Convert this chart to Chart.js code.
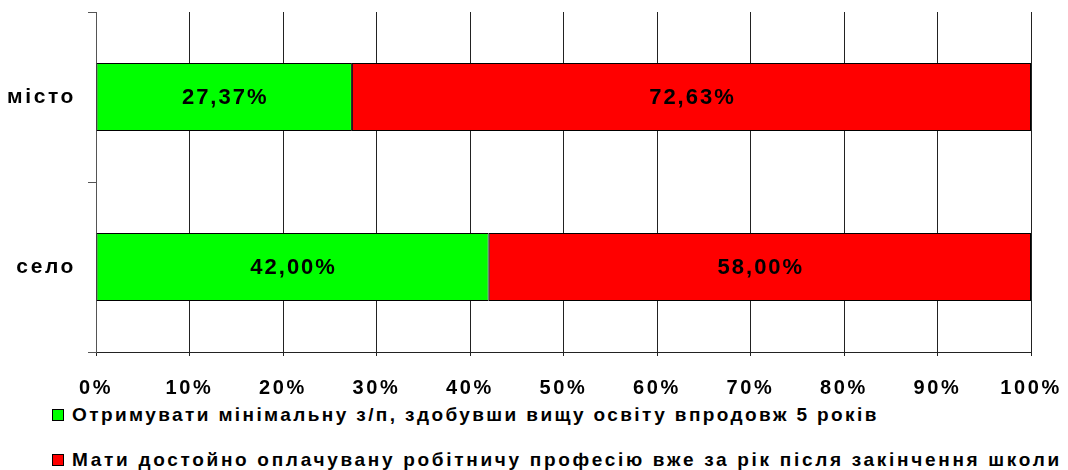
<!DOCTYPE html>
<html>
<head>
<meta charset="utf-8">
<script src="https://cdn.jsdelivr.net/npm/chart.js@4"></script>
<style>
  html, body { margin: 0; padding: 0; background: #fff; }
  #wrap { position: relative; width: 1068px; height: 470px; }
  #chart-box { position: absolute; left: 0; top: 0; width: 1068px; height: 400px; }
  #legend { position: absolute; left: 52px; top: 403px; font: bold 19px Arial, "Liberation Sans", sans-serif; letter-spacing: 2.4px; color: #000; }
  .item { display: flex; align-items: center; height: 24px; white-space: nowrap; }
  .item + .item { margin-top: 21px; letter-spacing: 2.7px; }
  .swatch { width: 10px; height: 10px; border: 1px solid #000; margin-right: 8px; flex: none; }
</style>
</head>
<body>
<div id="wrap">
  <div id="chart-box"><canvas id="chart"></canvas></div>
  <div id="legend"></div>
</div>
<script>
// categories and series (percent shares)
const categories = ['місто', 'село'];
const seriesNames = [
  'Отримувати мінімальну з/п, здобувши вищу освіту впродовж 5 років',
  'Мати достойно оплачувану робітничу професію вже за рік після закінчення школи',
];
const minWageHigherEdu = [27.37, 42.00];
const workerProfession = [72.63, 58.00];
const seriesColors = ['#00ff00', '#ff0000'];
const xTickValues = [0, 10, 20, 30, 40, 50, 60, 70, 80, 90, 100];

const FONT = 'Arial, "Liberation Sans", sans-serif';

const fmtPct = (v) => v.toFixed(2).replace('.', ',') + '%';

// spread the letters a bit, the original text is rendered wide
const letterSpacingPlugin = {
  id: 'letterSpacing',
  beforeDraw(chart) {
    chart.ctx.letterSpacing = '2.6px';
  },
};

// value labels in the middle of each bar segment
const barLabelsPlugin = {
  id: 'barLabels',
  afterDatasetsDraw(chart) {
    const ctx = chart.ctx;
    ctx.save();
    ctx.font = 'bold 22px ' + FONT;
    ctx.letterSpacing = '2px';
    ctx.fillStyle = '#000';
    ctx.textAlign = 'center';
    ctx.textBaseline = 'middle';
    chart.data.datasets.forEach((ds, i) => {
      const meta = chart.getDatasetMeta(i);
      meta.data.forEach((bar, j) => {
        const cx = (bar.x + bar.base) / 2;
        ctx.fillText(fmtPct(ds.data[j]), cx + 1, bar.y + 1);
      });
    });
    ctx.restore();
  },
};

const datasets = [minWageHigherEdu, workerProfession].map((values, i) => ({
  label: seriesNames[i],
  data: values,
  backgroundColor: seriesColors[i],
  borderColor: '#000',
  borderWidth: 1,
  borderSkipped: false,
  barPercentage: 0.4,
  categoryPercentage: 1,
}));

new Chart(document.getElementById('chart'), {
  type: 'bar',
  data: { labels: categories, datasets },
  plugins: [letterSpacingPlugin, barLabelsPlugin],
  options: {
    indexAxis: 'y',
    responsive: true,
    maintainAspectRatio: false,
    animation: false,
    layout: { padding: { left: 0, right: 37, top: 12, bottom: 0 } },
    plugins: {
      legend: { display: false },
      tooltip: { enabled: false },
    },
    scales: {
      x: {
        stacked: true,
        min: 0,
        max: 100,
        afterBuildTicks(scale) {
          scale.ticks = xTickValues.map((v) => ({ value: v }));
        },
        afterFit(scale) {
          scale.height = 48;
          scale.paddingLeft = 0;
          scale.paddingRight = 0;
        },
        ticks: {
          color: '#000',
          font: { family: FONT, size: 20, weight: 'bold' },
          padding: 20,
          maxRotation: 0,
          autoSkip: false,
          callback: (v) => v + '%',
        },
        grid: { color: '#222', lineWidth: 1, tickLength: 4, drawTicks: true },
        border: { color: '#222', width: 1 },
      },
      y: {
        stacked: true,
        offset: true,
        afterFit(scale) {
          scale.width = 96;
          scale.paddingTop = 0;
          scale.paddingBottom = 0;
        },
        ticks: {
          color: '#000',
          font: { family: FONT, size: 21, weight: 'bold' },
          padding: 12,
        },
        grid: { offset: true, drawOnChartArea: false, color: '#555', tickLength: 8 },
        border: { color: '#555', width: 1 },
      },
    },
  },
});

// legend below the chart, one entry per line
const legend = document.getElementById('legend');
seriesNames.forEach((name, i) => {
  const row = document.createElement('div');
  row.className = 'item';
  const sw = document.createElement('span');
  sw.className = 'swatch';
  sw.style.background = seriesColors[i];
  const txt = document.createElement('span');
  txt.textContent = name;
  row.appendChild(sw);
  row.appendChild(txt);
  legend.appendChild(row);
});
</script>
</body>
</html>
